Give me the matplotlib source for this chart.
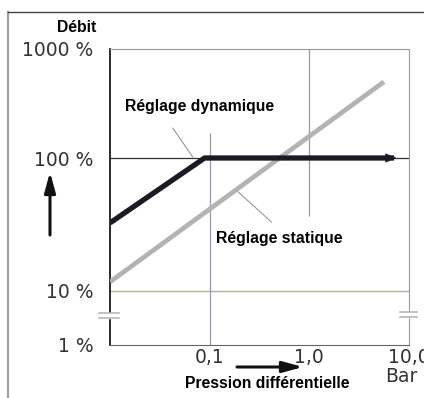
import numpy as np
import matplotlib
matplotlib.use("Agg")
import matplotlib.pyplot as plt
from matplotlib.patches import FancyArrowPatch
from matplotlib.ticker import FixedLocator, NullLocator

# --- data (x: bar, y: % of nominal flow) ---
static_x = [0.01, 5.6]
static_y = [11.7, 500]
dynamic_x = [0.01, 0.089, 7.1]
dynamic_y = [32.5, 100, 100]

x_ticks = [0.1, 1.0, 10.0]
x_labels = ["0,1", "1,0", "10,0"]
y_ticks = [1, 10, 100, 1000]
y_labels = ["1 %", "10 %", "100 %", "1000 %"]

# the y axis of the drawing is broken and its decades are not equal
y_decades = [0, 1, 2, 3]
y_span = [0, 54, 187, 296]


def fwd(v):
    v = np.asarray(v, dtype=float)
    return np.interp(np.log10(np.clip(v, 1e-3, None)), y_decades, y_span)


def inv(p):
    return 10 ** np.interp(np.asarray(p, dtype=float), y_span, y_decades)


W, H = 424, 398
fig = plt.figure(figsize=(W / 100, H / 100), dpi=100)
ax = fig.add_axes([110 / W, 1 - 345 / H, 299 / W, 296 / H])

ax.set_xscale("log")
ax.set_yscale("function", functions=(fwd, inv))
ax.set_xlim(0.01, 10)
ax.set_ylim(1, 1000)

# guide lines
ax.axhline(100, color="#333333", lw=0.9, zorder=1)
ax.axhline(10, color="#c9ab8c", lw=1.0, zorder=1)
ax.vlines(0.1, 1, 169, color="#9a9aa8", lw=0.9, zorder=1)
ax.vlines(1.0, 36.6, 1000, color="#9a9a9a", lw=0.9, zorder=1)

# curves
ax.plot(static_x, static_y, color="#b3b3b3", lw=3.4, solid_capstyle="butt", zorder=3)
ax.plot(dynamic_x, dynamic_y, color="#1b1b26", lw=3.8, solid_capstyle="butt",
        solid_joinstyle="miter", zorder=4)
ax.annotate("", xy=(dynamic_x[-1] * 1.12, dynamic_y[-1]), xytext=(dynamic_x[-1] * 0.9, dynamic_y[-1]),
            arrowprops=dict(arrowstyle="-|>,head_length=0.7,head_width=0.3",
                            color="#1b1b26", lw=0.5), zorder=5)

bold = dict(fontsize=11.3, fontweight="bold", family="Liberation Sans")

# labels with leader lines
ax.text(0.0141, 294, "Réglage dynamique", va="center", ha="left", **bold)
ax.plot([0.0427, 0.0676], [188, 102], color="#8c8c8c", lw=0.7)
ax.text(0.117, 25, "Réglage statique", va="center", ha="left", **bold)
ax.plot([0.186, 0.417], [57, 33], color="#8c8c8c", lw=0.7)

# ticks
ax.xaxis.set_major_locator(FixedLocator(x_ticks))
ax.xaxis.set_minor_locator(NullLocator())
ax.set_xticklabels(x_labels)
ax.yaxis.set_major_locator(FixedLocator(y_ticks))
ax.yaxis.set_minor_locator(NullLocator())
ax.set_yticklabels(y_labels)
ax.tick_params(axis="both", length=0, labelsize=13.5, labelcolor="#333333")
ax.tick_params(axis="y", pad=12)
ax.tick_params(axis="x", pad=2)

for side in ["top", "right"]:
    ax.spines[side].set_color("#9a9a9a")
ax.spines["left"].set_color("#1a1a1a")
ax.spines["left"].set_linewidth(1.3)
ax.spines["bottom"].set_color("#666666")

# axis break marks
for xs, ys in [([-0.037, 0.030], [0.108, 0.091]), ([0.970, 1.027], [0.1115, 0.0946])]:
    ax.fill_between(xs, ys[1], ys[0], color="white", transform=ax.transAxes,
                    clip_on=False, zorder=6)
    for yy in ys:
        ax.plot(xs, [yy, yy], color="#b0b0b0", lw=1.1, transform=ax.transAxes,
                clip_on=False, zorder=7)

# axis titles and arrows
fig.text(57 / W, 1 - 28 / H, "Débit", ha="left", va="center", **bold)
fig.text(267 / W, 1 - 383 / H, "Pression différentielle", ha="center", va="center", **bold)
fig.text(385 / W, 1 - 377 / H, "Bar", fontsize=13.5, color="#333333", ha="left", va="center")

arrow = dict(arrowstyle="-|>,head_length=1.1,head_width=0.3", color="#111111", lw=2.2,
             mutation_scale=11, shrinkA=0, shrinkB=0, transform=fig.transFigure)
fig.add_artist(FancyArrowPatch((50 / W, 1 - 235 / H), (50 / W, 1 - 172 / H), **arrow))
fig.add_artist(FancyArrowPatch((237 / W, 1 - 367 / H), (303 / W, 1 - 367 / H), **arrow))

# outer frame of the drawing
fig.add_artist(plt.Line2D([8 / W, 8 / W], [0, 1 - 12 / H], color="#a0a0a0", lw=1.6,
                          transform=fig.transFigure))
fig.add_artist(plt.Line2D([8 / W, 1], [1 - 12 / H, 1 - 12 / H], color="#444444", lw=1.0,
                          transform=fig.transFigure))

fig.savefig("out.png", dpi=100)
